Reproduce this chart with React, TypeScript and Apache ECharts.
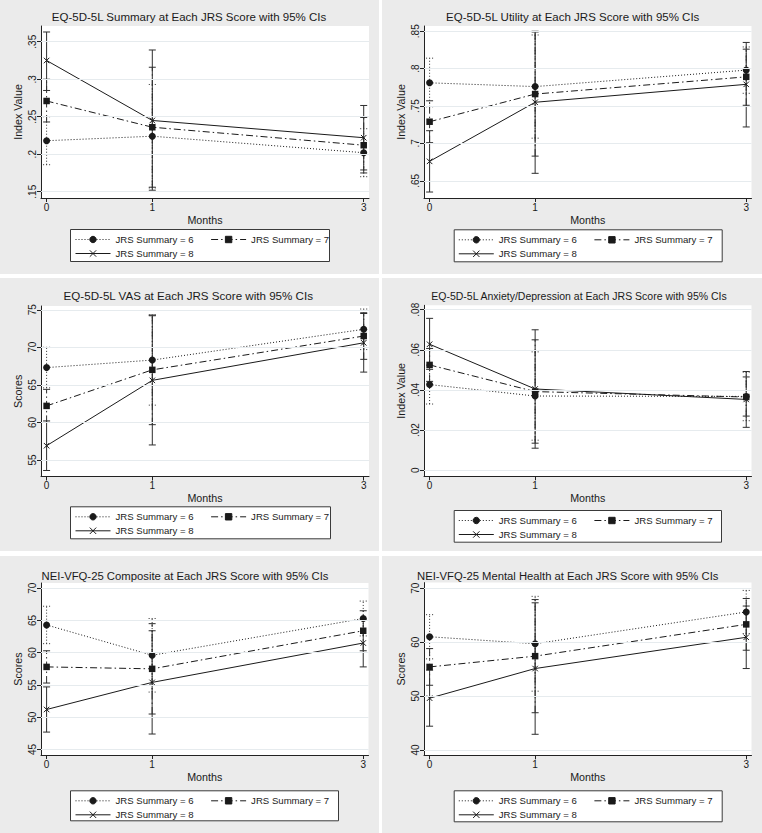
import React, { useEffect, useRef } from 'react';
import * as echarts from 'echarts';

// ---------------- data ----------------
const months = [0, 1, 3];
const groupNames = ['JRS Summary = 6', 'JRS Summary = 7', 'JRS Summary = 8'];
const xAxisTitle = 'Months';

// Panel 1: EQ-5D-5L Summary
const p1Title = 'EQ-5D-5L Summary at Each JRS Score with 95% CIs';
const p1YName = 'Index Value';
const p1Ticks = [0.15, 0.2, 0.25, 0.3, 0.35];
const p1TickLabels = ['.15', '.2', '.25', '.3', '.35'];
const p1Range = [0.1416, 0.371];
const p1Mean6 = [0.218, 0.224, 0.202];
const p1Low6 = [0.186, 0.155, 0.170];
const p1High6 = [0.250, 0.293, 0.234];
const p1Mean7 = [0.271, 0.236, 0.212];
const p1Low7 = [0.243, 0.156, 0.175];
const p1High7 = [0.300, 0.316, 0.249];
const p1Mean8 = [0.325, 0.245, 0.222];
const p1Low8 = [0.285, 0.152, 0.179];
const p1High8 = [0.363, 0.339, 0.265];

// Panel 2: EQ-5D-5L Utility
const p2Title = 'EQ-5D-5L Utility at Each JRS Score with 95% CIs';
const p2YName = 'Index Value';
const p2Ticks = [0.65, 0.7, 0.75, 0.8, 0.85];
const p2TickLabels = ['.65', '.7', '.75', '.8', '.85'];
const p2Range = [0.627, 0.857];
const p2Mean6 = [0.781, 0.776, 0.798];
const p2Low6 = [0.749, 0.707, 0.767];
const p2High6 = [0.814, 0.845, 0.829];
const p2Mean7 = [0.729, 0.766, 0.789];
const p2Low7 = [0.701, 0.683, 0.751];
const p2High7 = [0.757, 0.849, 0.826];
const p2Mean8 = [0.676, 0.755, 0.779];
const p2Low8 = [0.635, 0.660, 0.722];
const p2High8 = [0.717, 0.850, 0.835];

// Panel 3: EQ-5D-5L VAS
const p3Title = 'EQ-5D-5L VAS at Each JRS Score with 95% CIs';
const p3YName = 'Scores';
const p3Ticks = [55, 60, 65, 70, 75];
const p3TickLabels = ['55', '60', '65', '70', '75'];
const p3Range = [52.8, 75.5];
const p3Mean6 = [67.3, 68.3, 72.4];
const p3Low6 = [64.6, 62.3, 69.7];
const p3High6 = [70.0, 74.3, 75.1];
const p3Mean7 = [62.2, 67.0, 71.5];
const p3Low7 = [60.0, 59.7, 68.4];
const p3High7 = [64.4, 74.3, 74.6];
const p3Mean8 = [56.9, 65.6, 70.6];
const p3Low8 = [53.6, 57.0, 66.7];
const p3High8 = [60.2, 74.2, 74.5];

// Panel 4: EQ-5D-5L Anxiety/Depression
const p4Title = 'EQ-5D-5L Anxiety/Depression at Each JRS Score with 95% CIs';
const p4YName = 'Index Value';
const p4Ticks = [0, 0.02, 0.04, 0.06, 0.08];
const p4TickLabels = ['0', '.02', '.04', '.06', '.08'];
const p4Range = [-0.003, 0.0822];
const p4Mean6 = [0.0427, 0.0370, 0.0368];
const p4Low6 = [0.0330, 0.0150, 0.0247];
const p4High6 = [0.0524, 0.0590, 0.0489];
const p4Mean7 = [0.0525, 0.0392, 0.0365];
const p4Low7 = [0.0443, 0.0135, 0.0270];
const p4High7 = [0.0607, 0.0650, 0.0465];
const p4Mean8 = [0.0628, 0.0405, 0.0353];
const p4Low8 = [0.0503, 0.0110, 0.0214];
const p4High8 = [0.0757, 0.0700, 0.0492];

// Panel 5: NEI-VFQ-25 Composite
const p5Title = 'NEI-VFQ-25 Composite at Each JRS Score with 95% CIs';
const p5YName = 'Scores';
const p5Ticks = [45, 50, 55, 60, 65, 70];
const p5TickLabels = ['45', '50', '55', '60', '65', '70'];
const p5Range = [44.15, 70.8];
const p5Mean6 = [64.3, 59.6, 65.3];
const p5Low6 = [61.4, 53.9, 62.6];
const p5High6 = [67.2, 65.3, 68.0];
const p5Mean7 = [57.8, 57.5, 63.4];
const p5Low7 = [55.3, 50.5, 60.3];
const p5High7 = [60.3, 64.5, 66.5];
const p5Mean8 = [51.2, 55.4, 61.5];
const p5Low8 = [47.7, 47.4, 57.8];
const p5High8 = [54.7, 63.4, 65.2];

// Panel 6: NEI-VFQ-25 Mental Health
const p6Title = 'NEI-VFQ-25 Mental Health at Each JRS Score with 95% CIs';
const p6YName = 'Scores';
const p6Ticks = [40, 50, 60, 70];
const p6TickLabels = ['40', '50', '60', '70'];
const p6Range = [39.0, 71.05];
const p6Mean6 = [61.0, 59.7, 65.6];
const p6Low6 = [56.9, 50.9, 61.6];
const p6High6 = [65.1, 68.5, 69.6];
const p6Mean7 = [55.4, 57.4, 63.3];
const p6Low7 = [52.0, 46.9, 58.5];
const p6High7 = [58.8, 67.9, 68.1];
const p6Mean8 = [49.6, 55.1, 60.9];
const p6Low8 = [44.4, 42.9, 55.1];
const p6High8 = [54.8, 67.3, 66.7];

const xRange = [-0.053, 3.05];

const panels = [
  { title: p1Title, yName: p1YName, ticks: p1Ticks, labels: p1TickLabels, range: p1Range,
    mean: [p1Mean6, p1Mean7, p1Mean8], low: [p1Low6, p1Low7, p1Low8], high: [p1High6, p1High7, p1High8] },
  { title: p2Title, yName: p2YName, ticks: p2Ticks, labels: p2TickLabels, range: p2Range,
    mean: [p2Mean6, p2Mean7, p2Mean8], low: [p2Low6, p2Low7, p2Low8], high: [p2High6, p2High7, p2High8] },
  { title: p3Title, yName: p3YName, ticks: p3Ticks, labels: p3TickLabels, range: p3Range,
    mean: [p3Mean6, p3Mean7, p3Mean8], low: [p3Low6, p3Low7, p3Low8], high: [p3High6, p3High7, p3High8] },
  { title: p4Title, yName: p4YName, ticks: p4Ticks, labels: p4TickLabels, range: p4Range,
    mean: [p4Mean6, p4Mean7, p4Mean8], low: [p4Low6, p4Low7, p4Low8], high: [p4High6, p4High7, p4High8] },
  { title: p5Title, yName: p5YName, ticks: p5Ticks, labels: p5TickLabels, range: p5Range,
    mean: [p5Mean6, p5Mean7, p5Mean8], low: [p5Low6, p5Low7, p5Low8], high: [p5High6, p5High7, p5High8] },
  { title: p6Title, yName: p6YName, ticks: p6Ticks, labels: p6TickLabels, range: p6Range,
    mean: [p6Mean6, p6Mean7, p6Mean8], low: [p6Low6, p6Low7, p6Low8], high: [p6High6, p6High7, p6High8] },
];

// ---------------- layout / style ----------------
const layouts = [
  { x: 0, y: 0, w: 379, h: 274, plotL: 41, plotR: 369, plotT: 26, plotB: 198, titleX: 189, titleY: 16.7, titleSize: 11.5, legX: 70, legY: 229, legW: 259, legH: 32, key1: 75 },
  { x: 382, y: 0, w: 380, h: 274, plotL: 42, plotR: 369.5, plotT: 26, plotB: 198, titleX: 190.7, titleY: 17.3, titleSize: 11.5, legX: 71.7, legY: 229.3, legW: 268, legH: 32, key1: 76.3 },
  { x: 0, y: 278, w: 379, h: 273, plotL: 41, plotR: 369, plotT: 28, plotB: 198.5, titleX: 188.3, titleY: 17.3, titleSize: 11.6, legX: 70, legY: 228.3, legW: 260, legH: 32, key1: 75 },
  { x: 382, y: 278, w: 380, h: 273, plotL: 42, plotR: 369.5, plotT: 27.3, plotB: 198.3, titleX: 197, titleY: 18.3, titleSize: 10.5, legX: 71.7, legY: 232, legW: 267.3, legH: 31.7, key1: 76.3 },
  { x: 0, y: 556, w: 379, h: 277, plotL: 41, plotR: 368.5, plotT: 27, plotB: 199, titleX: 185, titleY: 20, titleSize: 11.3, legX: 70, legY: 234.3, legW: 268, legH: 30, key1: 75 },
  { x: 382, y: 556, w: 380, h: 277, plotL: 42, plotR: 369.5, plotT: 26.6, plotB: 199.3, titleX: 185.7, titleY: 20, titleSize: 11.25, legX: 71.7, legY: 234.3, legW: 268, legH: 31, key1: 76.3 },
];

const FONT = '"Liberation Sans", Arial, Helvetica, sans-serif';
const INK = '#1a1a1a';
const BG = '#ebebeb';
const GRIDC = '#e6ebee';
const CIC = '#2e2e2e';
const lineDashes: any[] = [[1, 2], [7, 3, 1.5, 3], null];
const lineTypes: any[] = [[1, 2], [7, 3, 1.5, 3], 'solid'];
const symbols = ['circle', 'rect', 'path://M0,0L10,10M10,0L0,10'];
const symbolSizes = [7, 6.5, 5.5];

function buildOption() {
  const grid: any[] = [];
  const xAxis: any[] = [];
  const yAxis: any[] = [];
  const series: any[] = [];
  const legend: any[] = [];
  const graphics: any[] = [];

  panels.forEach((p, i) => {
    const L = layouts[i];
    graphics.push({
      type: 'rect', z: -10, silent: true,
      shape: { x: L.x, y: L.y, width: L.w, height: L.h },
      style: { fill: BG },
    });
    graphics.push({
      type: 'rect', z: -5, silent: true,
      shape: { x: L.x + L.legX + 0.5, y: L.y + L.legY + 0.5, width: L.legW, height: L.legH },
      style: { fill: '#ffffff', stroke: '#3a3a3a', lineWidth: 1 },
    });
    graphics.push({
      type: 'text', z: 10, silent: true,
      x: L.x + L.titleX, y: L.y + L.titleY,
      style: {
        text: p.title, fontSize: L.titleSize, fontFamily: FONT, fontWeight: 'normal', fill: INK,
        align: 'center', verticalAlign: 'middle', textAlign: 'center', textVerticalAlign: 'middle',
      },
    });

    grid.push({
      left: L.x + L.plotL, top: L.y + L.plotT,
      width: L.plotR - L.plotL, height: L.plotB - L.plotT,
      show: true, backgroundColor: '#ffffff', borderWidth: 0,
      containLabel: false, outerBoundsMode: 'none',
    });

    xAxis.push({
      type: 'value', gridIndex: i, min: xRange[0], max: xRange[1],
      name: xAxisTitle, nameLocation: 'middle', nameGap: 16, nameMoveOverlap: false,
      nameTextStyle: { fontSize: 10.7, fontFamily: FONT, fontWeight: 'normal', color: INK },
      axisLine: { show: true, onZero: false, lineStyle: { color: '#222', width: 1 } },
      axisTick: { show: true, length: 4, customValues: months, lineStyle: { color: '#222', width: 1 } },
      axisLabel: {
        show: true, customValues: months, margin: 4,
        fontSize: 10, fontFamily: FONT, fontWeight: 'normal', color: INK,
        formatter: (v: number) => String(v),
      },
      splitLine: { show: false },
    });

    yAxis.push({
      type: 'value', gridIndex: i, min: p.range[0], max: p.range[1],
      name: p.yName, nameLocation: 'middle', nameGap: 18, nameRotate: 90, nameMoveOverlap: false,
      nameTextStyle: { fontSize: 10.7, fontFamily: FONT, fontWeight: 'normal', color: INK },
      axisLine: { show: true, onZero: false, lineStyle: { color: '#222', width: 1 } },
      axisTick: { show: true, length: 4, customValues: p.ticks, lineStyle: { color: '#222', width: 1 } },
      axisLabel: {
        show: true, customValues: p.ticks, margin: 4, rotate: 90,
        fontSize: 10, fontFamily: FONT, fontWeight: 'normal', color: INK,
        formatter: (v: number) => {
          const k = p.ticks.findIndex((t) => Math.abs(t - v) < 1e-9);
          return k >= 0 ? p.labels[k] : '';
        },
      },
      splitLine: { show: false },
    });

    // gridlines at the tick values
    series.push({
      type: 'line', name: 'grid-' + i, xAxisIndex: i, yAxisIndex: i, z: 1, silent: true,
      data: months.map((m, j) => [m, p.mean[0][j]]),
      symbol: 'none', lineStyle: { opacity: 0, width: 0 },
      markLine: {
        silent: true, symbol: ['none', 'none'], label: { show: false },
        lineStyle: { color: GRIDC, width: 1, type: 'solid' },
        emphasis: { disabled: true },
        data: p.ticks.map((t) => ({ yAxis: t })),
      },
    });

    // confidence intervals
    [0, 1, 2].forEach((g) => {
      const dash = lineDashes[g];
      series.push({
        type: 'custom', name: 'ci-' + g + '-' + i, xAxisIndex: i, yAxisIndex: i, z: 2, silent: true,
        data: months.map((m, j) => [m, p.low[g][j], p.high[g][j]]),
        encode: { x: 0, y: [1, 2] },
        renderItem: (params: any, api: any) => {
          const x = api.value(0);
          const a = api.coord([x, api.value(1)]);
          const b = api.coord([x, api.value(2)]);
          const style = { stroke: CIC, lineWidth: 1, lineDash: dash, fill: null };
          return {
            type: 'group',
            children: [
              { type: 'line', shape: { x1: a[0], y1: a[1], x2: b[0], y2: b[1] }, style },
              { type: 'line', shape: { x1: a[0] - 3.5, y1: a[1], x2: a[0] + 3.5, y2: a[1] }, style },
              { type: 'line', shape: { x1: b[0] - 3.5, y1: b[1], x2: b[0] + 3.5, y2: b[1] }, style },
            ],
          };
        },
      });
    });

    // means
    [0, 1, 2].forEach((g) => {
      series.push({
        type: 'line', name: groupNames[g], xAxisIndex: i, yAxisIndex: i, z: 3,
        data: months.map((m, j) => [m, p.mean[g][j]]),
        symbol: symbols[g], symbolSize: symbolSizes[g], showSymbol: true,
        lineStyle: { color: INK, width: 1, type: lineTypes[g] },
        itemStyle: g === 2
          ? { color: INK, borderColor: INK, borderWidth: 1 }
          : { color: INK, borderWidth: 0 },
        emphasis: { disabled: true },
      });
    });

    const legendCommon = {
      orient: 'horizontal', itemWidth: 35, itemHeight: 8, itemGap: 17, padding: 0,
      selectedMode: false,
      lineStyle: { width: 1 },
      itemStyle: { borderWidth: 1, borderColor: INK },
      textStyle: { fontSize: 9.6, fontFamily: FONT, fontWeight: 'normal', color: INK, lineHeight: 12 },
    };
    const row1 = L.y + L.legY + 10.5;
    const row2 = row1 + 14;
    legend.push({ ...legendCommon, data: [groupNames[0], groupNames[1]], left: L.x + L.key1, top: row1 - 6 });
    legend.push({ ...legendCommon, data: [groupNames[2]], left: L.x + L.key1, top: row2 - 6 });
  });

  return {
    animation: false,
    backgroundColor: '#ffffff',
    textStyle: { fontFamily: FONT, fontWeight: 'normal' },
    grid, xAxis, yAxis, series, legend,
    graphic: { elements: graphics },
  };
}

export default function App() {
  const ref = useRef<HTMLDivElement>(null);
  useEffect(() => {
    if (!ref.current) return;
    const chart = echarts.init(ref.current, undefined, { renderer: 'svg' });
    chart.setOption(buildOption() as any);
    return () => chart.dispose();
  }, []);
  return (
    <div
      ref={ref}
      style={{ position: 'absolute', left: 0, top: 0, width: 762, height: 833, background: '#ffffff' }}
    />
  );
}
